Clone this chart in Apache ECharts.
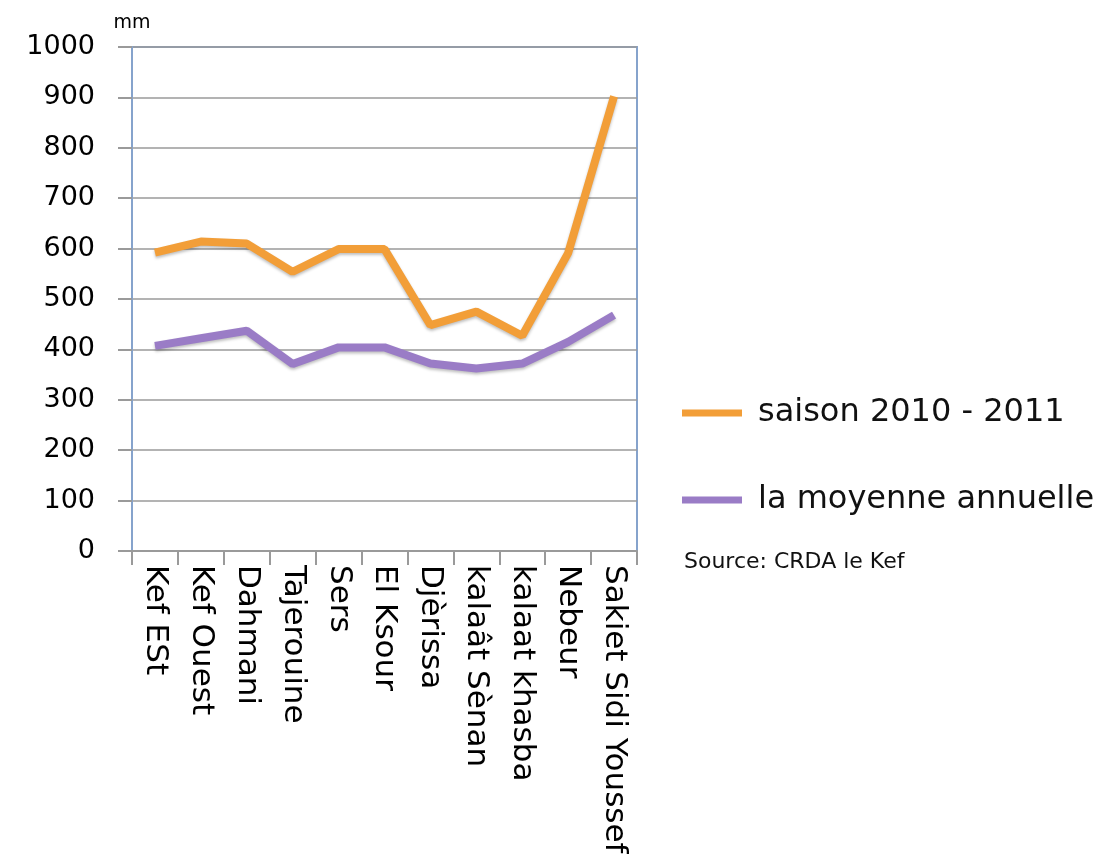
<!DOCTYPE html>
<html lang="fr" style="height: 100%">
<head>
    <meta charset="UTF-8">
    <title>Pluviométrie - Kef</title>
    <script src="https://cdn.jsdelivr.net/npm/echarts@6/dist/echarts.min.js"></script>
</head>
<body style="height: 100%; margin: 0">
<div id="main" style="width: 1100px; height: 857px"></div>
<script>
    var stations = ['Kef ESt', 'Kef Ouest', 'Dahmani', 'Tajerouine', 'Sers', 'El Ksour',
        'Djèrissa', 'kalaât Sènan', 'kalaat khasba', 'Nebeur', 'Sakiet Sidi Youssef'];
    var saison = [592, 614, 610, 554, 599, 599, 448, 475, 427, 591, 902];
    var moyenne = [407, 422, 437, 371, 404, 404, 372, 362, 372, 415, 468];
    var yTicks = [0, 100, 200, 300, 400, 500, 600, 700, 800, 900, 1000];

    var font = 'DejaVu Sans, Verdana, sans-serif';
    var myChart = echarts.init(document.getElementById('main'));
    myChart.setOption({
        backgroundColor: '#fff',
        animation: false,
        title: {
            text: 'Source: CRDA le Kef',
            left: 684,
            top: 551,
            padding: 0,
            textStyle: {fontFamily: font, fontSize: 22, fontWeight: 'normal', color: '#111'}
        },
        legend: {
            orient: 'vertical',
            left: 682,
            top: 397,
            padding: 0,
            itemWidth: 60,
            itemHeight: 7,
            itemGap: 55,
            icon: 'rect',
            data: ['saison 2010 - 2011', 'la moyenne annuelle'],
            textStyle: {fontFamily: font, fontSize: 32, color: '#111', padding: [0, 0, 0, 11]}
        },
        grid: {
            left: 132,
            right: 463,
            top: 47,
            bottom: 306,
            show: true,
            borderColor: '#86a3cc',
            borderWidth: 2
        },
        xAxis: {
            type: 'category',
            data: stations,
            boundaryGap: true,
            axisLine: {lineStyle: {color: '#9a9a9a', width: 2}},
            axisTick: {show: true, length: 14, lineStyle: {color: '#9a9a9a', width: 2}},
            axisLabel: {
                interval: 0,
                rotate: -90,
                margin: 14,
                fontFamily: font,
                fontSize: 31,
                color: '#000'
            }
        },
        yAxis: {
            type: 'value',
            min: 0,
            max: 1000,
            interval: 100,
            name: 'mm',
            nameLocation: 'end',
            nameGap: 14,
            nameTextStyle: {fontFamily: font, fontSize: 19, color: '#000', align: 'center'},
            axisLine: {show: true, lineStyle: {color: '#86a3cc', width: 2}},
            axisTick: {show: true, length: 14, lineStyle: {color: '#9a9a9a', width: 2}},
            splitLine: {lineStyle: {color: '#9a9a9a', width: 1.5}},
            axisLabel: {
                margin: 37,
                fontFamily: font,
                fontSize: 27,
                color: '#000',
                formatter: function (v) { return yTicks.indexOf(v) >= 0 ? String(v) : ''; }
            }
        },
        series: [{
            name: 'saison 2010 - 2011',
            type: 'line',
            data: saison,
            symbol: 'none',
            itemStyle: {color: '#f29e38'},
            lineStyle: {color: '#f29e38', width: 8, shadowColor: 'rgba(0,0,0,0.25)', shadowBlur: 3, shadowOffsetY: 2}
        }, {
            name: 'la moyenne annuelle',
            type: 'line',
            data: moyenne,
            symbol: 'none',
            itemStyle: {color: '#9a7cc6'},
            lineStyle: {color: '#9a7cc6', width: 8, shadowColor: 'rgba(0,0,0,0.25)', shadowBlur: 3, shadowOffsetY: 2}
        }]
    });
</script>
</body>
</html>
